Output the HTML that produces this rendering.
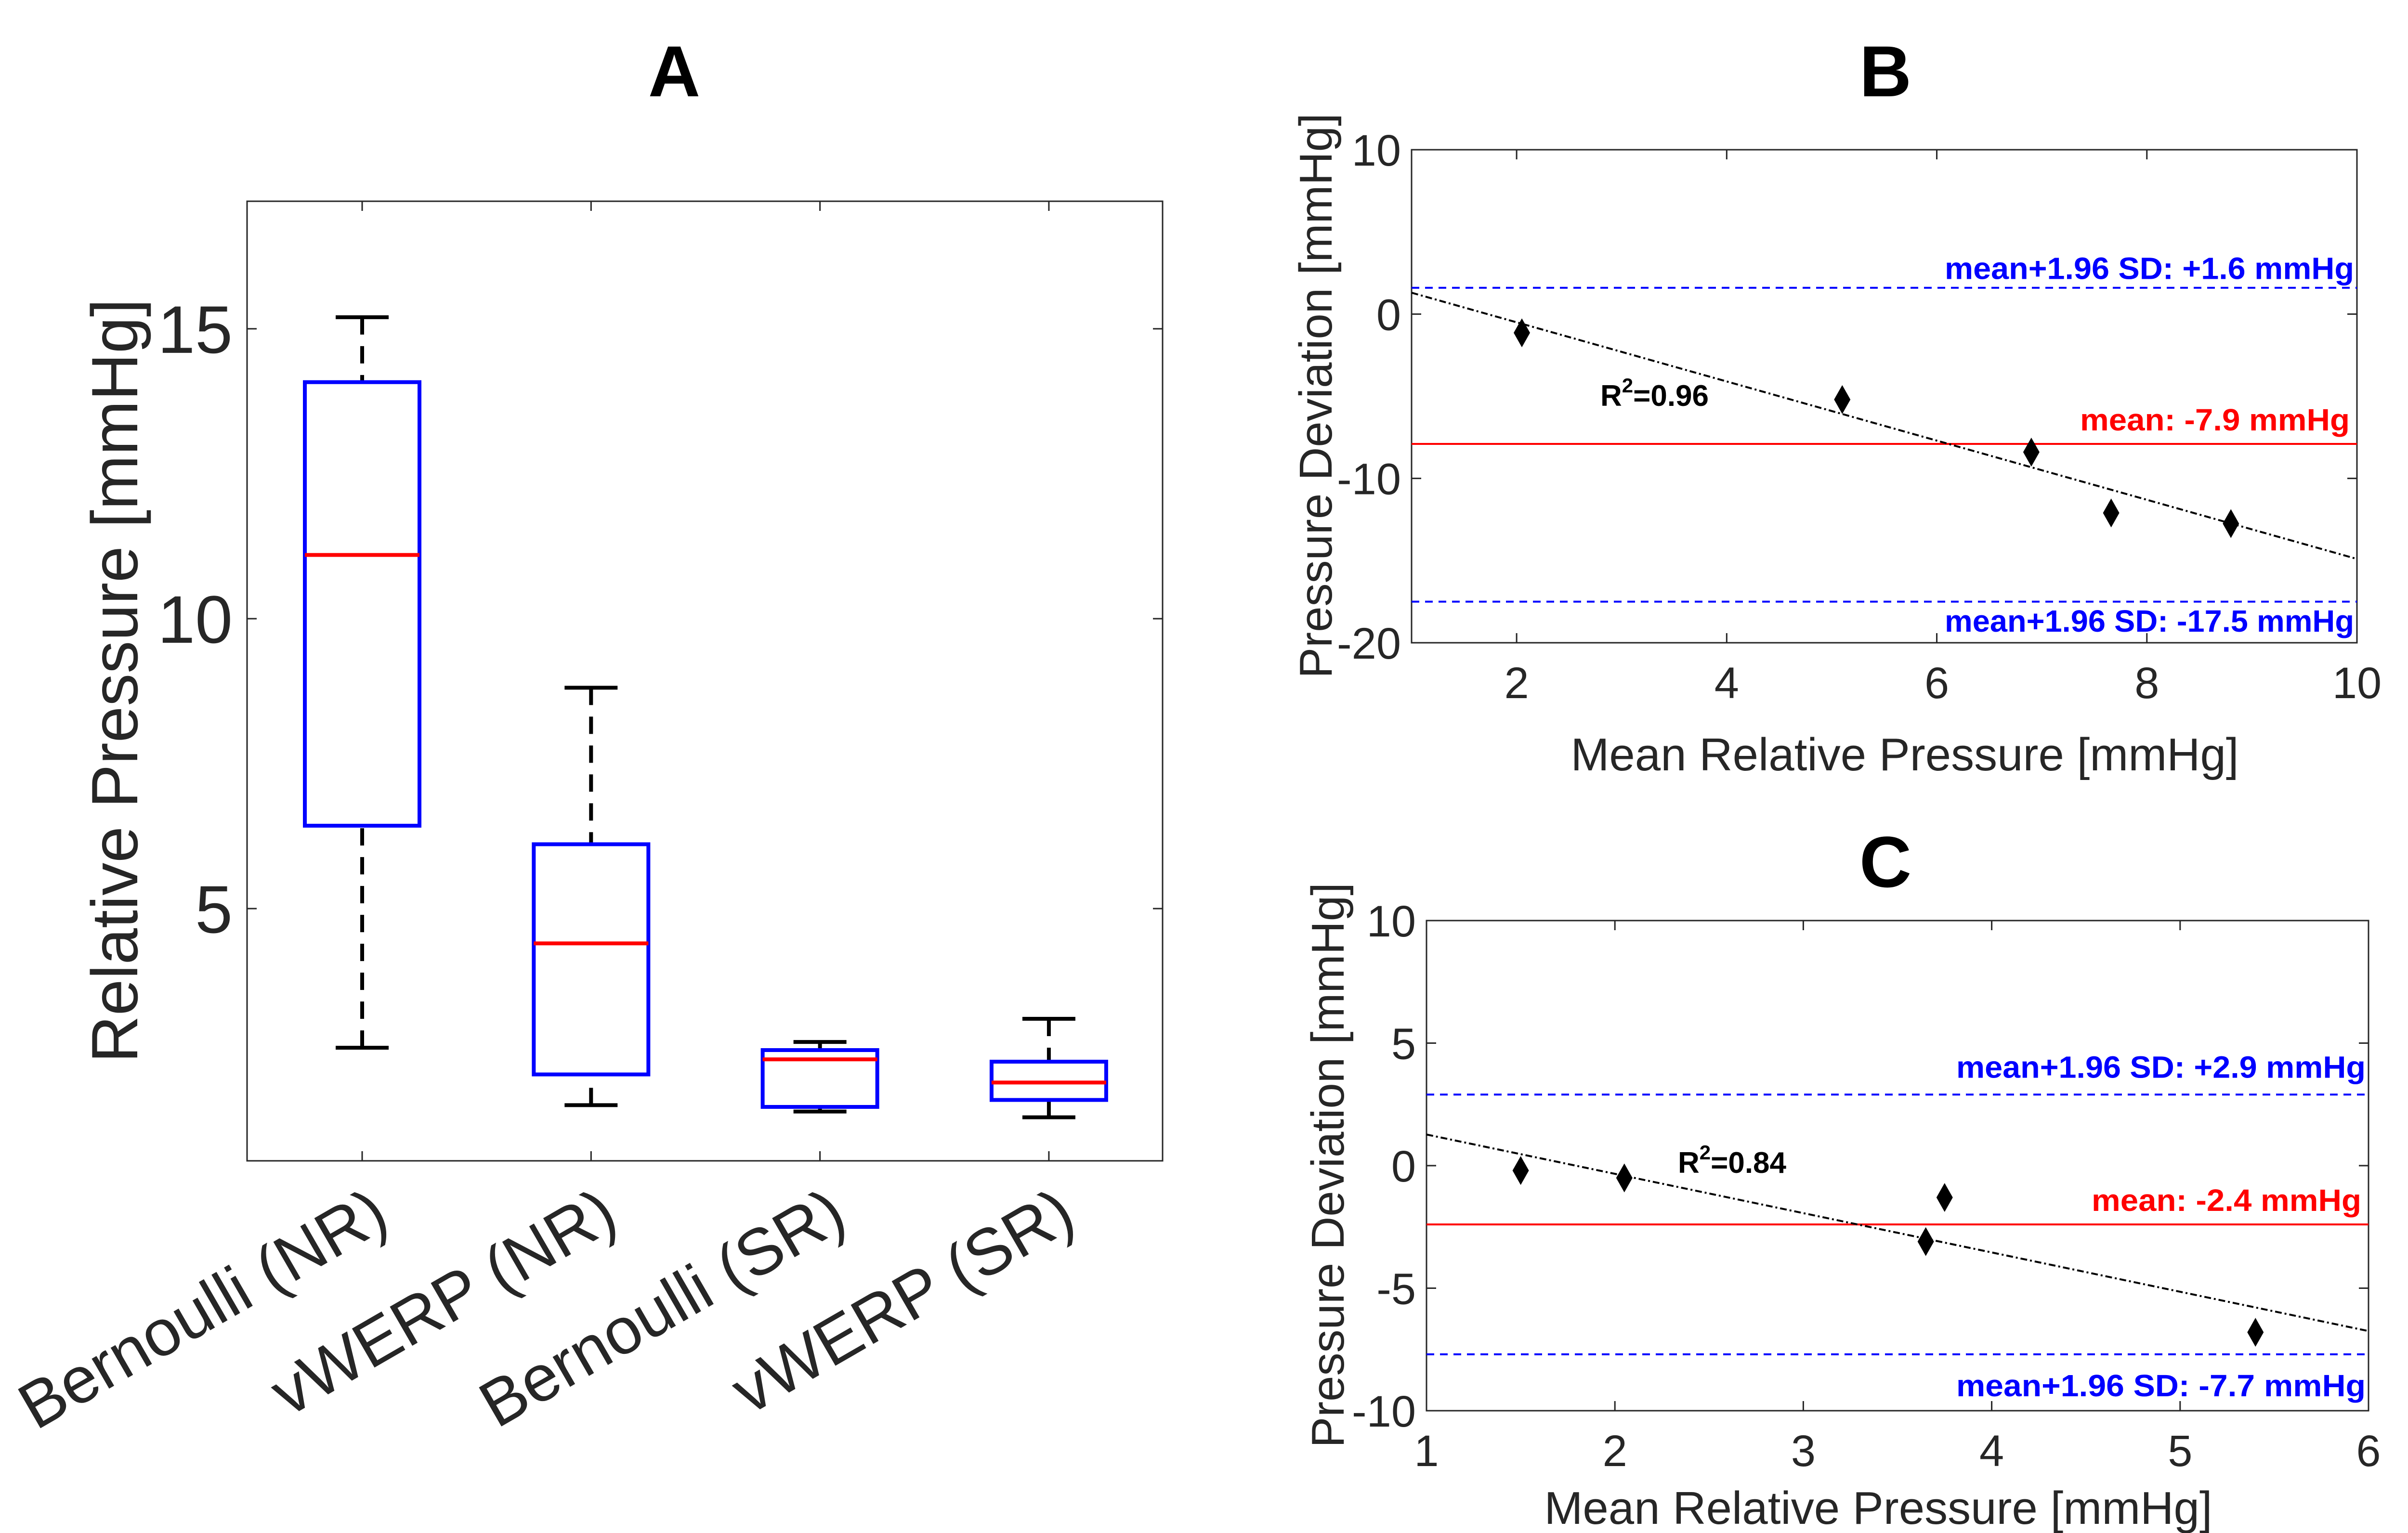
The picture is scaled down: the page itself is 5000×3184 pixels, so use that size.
<!DOCTYPE html>
<html><head><meta charset="utf-8"><style>html,body{margin:0;padding:0;background:#fff}svg{display:block}</style></head>
<body>
<svg id="fig" width="5000" height="3184" viewBox="0 0 5000 3184" xmlns="http://www.w3.org/2000/svg" font-family="Liberation Sans, sans-serif">
<rect width="5000" height="3184" fill="#fff"/>
<g id="pa"></g>
<g id="pb"></g>
<g id="pc"></g>
</svg>
<script>
// Panel A data
const aCategories = ["Bernoulli (NR)", "vWERP (NR)", "Bernoulli (SR)", "vWERP (SR)"];
const aWhiskerHigh = [15.2, 8.81, 2.70, 3.10];
const aQ3 = [14.08, 6.11, 2.56, 2.36];
const aMedian = [11.1, 4.40, 2.40, 2.0];
const aQ1 = [6.43, 2.14, 1.58, 1.70];
const aWhiskerLow = [2.6, 1.61, 1.50, 1.40];
const aYTicks = [5, 10, 15];
// Panel B data
const bX = [2.05, 5.1, 6.9, 7.66, 8.8];
const bY = [-1.14, -5.2, -8.4, -12.1, -12.75];
const bFit = [1.3, -14.9]; // fit values at x=1 and x=10
const bMean = [-7.9];
const bLimits = [1.6, -17.5];
const bXTicks = [2, 4, 6, 8, 10];
const bYTicks = [-20, -10, 0, 10];
// Panel C data
const cX = [1.50, 2.05, 3.65, 3.75, 5.4];
const cY = [-0.2, -0.5, -3.1, -1.3, -6.8];
const cFit = [1.27, -6.75]; // fit values at x=1 and x=6
const cMean = [-2.4];
const cLimits = [2.9, -7.7];
const cXTicks = [1, 2, 3, 4, 5, 6];
const cYTicks = [-10, -5, 0, 5, 10];

const NS = "http://www.w3.org/2000/svg";
function mk(parent, tag, attrs, text) {
  const e = document.createElementNS(NS, tag);
  for (const k in attrs) e.setAttribute(k, attrs[k]);
  if (text !== undefined) e.textContent = text;
  parent.appendChild(e);
  return e;
}
function lin(d0, d1, r0, r1) { return v => r0 + (v - d0) * (r1 - r0) / (d1 - d0); }

// ---------- Panel A ----------
(function () {
  const g = document.getElementById("pa");
  const L = 513, R = 2414, T = 418, B = 2411;
  const y = lin(0.65, 17.2, B, T);
  const x = i => 752 + i * 475.3;
  const hw = 119;
  let t = mk(g, "text", {x: 1400, y: 200, "font-size": 150, "font-weight": "bold", "text-anchor": "middle", fill: "#000"}, "A");
  
  
  let ax = mk(g, "rect", {x: L, y: T, width: R - L, height: B - T, fill: "none", stroke: "#262626", "stroke-width": 3});
  
  
  aYTicks.forEach(v => {
    mk(g, "line", {x1: L, x2: L + 20, y1: y(v), y2: y(v), stroke: "#262626", "stroke-width": 3});
    mk(g, "line", {x1: R, x2: R - 20, y1: y(v), y2: y(v), stroke: "#262626", "stroke-width": 3});
    const tl = mk(g, "text", {x: L - 30, y: y(v) + 50, "font-size": 140, "text-anchor": "end", fill: "#262626"}, String(v));
    
    
  });
  const yl = mk(g, "text", {x: 0, y: 0, "font-size": 136, "text-anchor": "middle", fill: "#262626", transform: "translate(285,1414) rotate(-90)"}, "Relative Pressure [mmHg]");
  
  
  aCategories.forEach((c, i) => {
    const cx = x(i);
    mk(g, "line", {x1: cx, x2: cx, y1: T, y2: T + 20, stroke: "#262626", "stroke-width": 3});
    mk(g, "line", {x1: cx, x2: cx, y1: B, y2: B - 20, stroke: "#262626", "stroke-width": 3});
    const box = mk(g, "g", {});
    
    
    mk(box, "line", {x1: cx, x2: cx, y1: y(aWhiskerHigh[i]), y2: y(aQ3[i]), stroke: "#000", "stroke-width": 8, "stroke-dasharray": "36 24"});
    mk(box, "line", {x1: cx, x2: cx, y1: y(aWhiskerLow[i]), y2: y(aQ1[i]), stroke: "#000", "stroke-width": 8, "stroke-dasharray": "36 24"});
    mk(box, "line", {x1: cx - 55, x2: cx + 55, y1: y(aWhiskerHigh[i]), y2: y(aWhiskerHigh[i]), stroke: "#000", "stroke-width": 8});
    mk(box, "line", {x1: cx - 55, x2: cx + 55, y1: y(aWhiskerLow[i]), y2: y(aWhiskerLow[i]), stroke: "#000", "stroke-width": 8});
    mk(box, "rect", {x: cx - hw, y: y(aQ3[i]), width: 2 * hw, height: y(aQ1[i]) - y(aQ3[i]), fill: "none", stroke: "#0000ff", "stroke-width": 8});
    mk(box, "line", {x1: cx - hw, x2: cx + hw, y1: y(aMedian[i]), y2: y(aMedian[i]), stroke: "#ff0000", "stroke-width": 8});
    const xl = mk(g, "text", {x: 0, y: 0, "font-size": 136, "text-anchor": "end", fill: "#262626", transform: `translate(${cx + 62},2545) rotate(-30)`}, c);
    
    
  });
})();

// ---------- Bland-Altman panels ----------
function blandAltman(gid, cfg) {
  const g = document.getElementById(gid);
  const {L, R, T, B, xd, yd, xs, ys, fit, mean, lim, xt, yt, title, titleY, r2, r2pos, ylab, xlabY, xlabX, upLabOff, lowLabY} = cfg;
  const x = lin(xd[0], xd[1], L, R), y = lin(yd[0], yd[1], B, T);
  const tt = mk(g, "text", {x: 3915, y: titleY, "font-size": 150, "font-weight": "bold", "text-anchor": "middle", fill: "#000"}, title);
  
  
  const ax = mk(g, "rect", {x: L, y: T, width: R - L, height: B - T, fill: "none", stroke: "#262626", "stroke-width": 3});
  
  
  xt.forEach(v => {
    mk(g, "line", {x1: x(v), x2: x(v), y1: B, y2: B - 20, stroke: "#262626", "stroke-width": 3});
    mk(g, "line", {x1: x(v), x2: x(v), y1: T, y2: T + 20, stroke: "#262626", "stroke-width": 3});
    const l = mk(g, "text", {x: x(v), y: B + 115, "font-size": 92, "text-anchor": "middle", fill: "#262626"}, String(v));
    
    
  });
  yt.forEach(v => {
    mk(g, "line", {x1: L, x2: L + 20, y1: y(v), y2: y(v), stroke: "#262626", "stroke-width": 3});
    mk(g, "line", {x1: R, x2: R - 20, y1: y(v), y2: y(v), stroke: "#262626", "stroke-width": 3});
    const l = mk(g, "text", {x: L - 22, y: y(v) + 33, "font-size": 92, "text-anchor": "end", fill: "#262626"}, String(v));
    
    
  });
  const yl = mk(g, "text", {x: 0, y: 0, "font-size": 96, "text-anchor": "middle", fill: "#262626", transform: `translate(${ylab[0]},${ylab[1]}) rotate(-90)`}, "Pressure Deviation [mmHg]");
  
  
  const xl = mk(g, "text", {x: xlabX, y: xlabY, "font-size": 96, "text-anchor": "middle", fill: "#262626"}, "Mean Relative Pressure [mmHg]");
  
  
  lim.forEach((v, i) => {
    const ln = mk(g, "line", {x1: L, x2: R, y1: y(v), y2: y(v), stroke: "#0000ff", "stroke-width": 4, "stroke-dasharray": "16 12"});
    
    
    const txt = "mean+1.96 SD: " + (v > 0 ? "+" : "") + v.toFixed(1) + " mmHg";
    const ty = i === 0 ? y(v) - upLabOff : lowLabY;
    const tl = mk(g, "text", {x: R - 6, y: ty, "font-size": 64, "font-weight": "bold", "text-anchor": "end", fill: "#0000ff", textLength: 850, lengthAdjust: "spacingAndGlyphs"}, txt);
    
    
  });
  const ml = mk(g, "line", {x1: L, x2: R, y1: y(mean[0]), y2: y(mean[0]), stroke: "#ff0000", "stroke-width": 4});
  
  
  const mt = mk(g, "text", {x: R - 15, y: y(mean[0]) - 28, "font-size": 64, "font-weight": "bold", "text-anchor": "end", fill: "#ff0000", textLength: 560, lengthAdjust: "spacingAndGlyphs"}, "mean: " + mean[0].toFixed(1) + " mmHg");
  
  
  const fl = mk(g, "line", {x1: x(xd[0]), x2: x(xd[1]), y1: y(fit[0]), y2: y(fit[1]), stroke: "#000", "stroke-width": 4, "stroke-dasharray": "14 6 4 6"});
  
  
  xs.forEach((v, i) => {
    const px = x(v), py = y(ys[i]);
    const p = mk(g, "path", {d: `M${px},${py - 30}L${px + 17},${py}L${px},${py + 30}L${px - 17},${py}Z`, fill: "#000"});
    
    
  });
  const rt = mk(g, "text", {x: r2pos[0], y: r2pos[1], "font-size": 62, "font-weight": "bold", fill: "#000"});
  
  
  mk(rt, "tspan", {}, "R");
  mk(rt, "tspan", {dy: -28, "font-size": 42}, "2");
  mk(rt, "tspan", {dy: 28}, "=" + r2);
}
blandAltman("pb", {L: 2931, R: 4894, T: 311, B: 1335, xd: [1, 10], yd: [-20, 10], xs: bX, ys: bY, fit: bFit, mean: bMean, lim: bLimits, xt: bXTicks, yt: bYTicks, title: "B", titleY: 200, r2: "0.96", r2pos: [3323, 843], ylab: [2765, 822], xlabY: 1600, xlabX: 3955, upLabOff: 18, lowLabY: 1312});
blandAltman("pc", {L: 2962, R: 4918, T: 1912, B: 2930, xd: [1, 6], yd: [-10, 10], xs: cX, ys: cY, fit: cFit, mean: cMean, lim: cLimits, xt: cXTicks, yt: cYTicks, title: "C", titleY: 1842, r2: "0.84", r2pos: [3484, 2436], ylab: [2790, 2420], xlabY: 3165, xlabX: 3900, upLabOff: 35, lowLabY: 2900});
</script>
</body></html>
